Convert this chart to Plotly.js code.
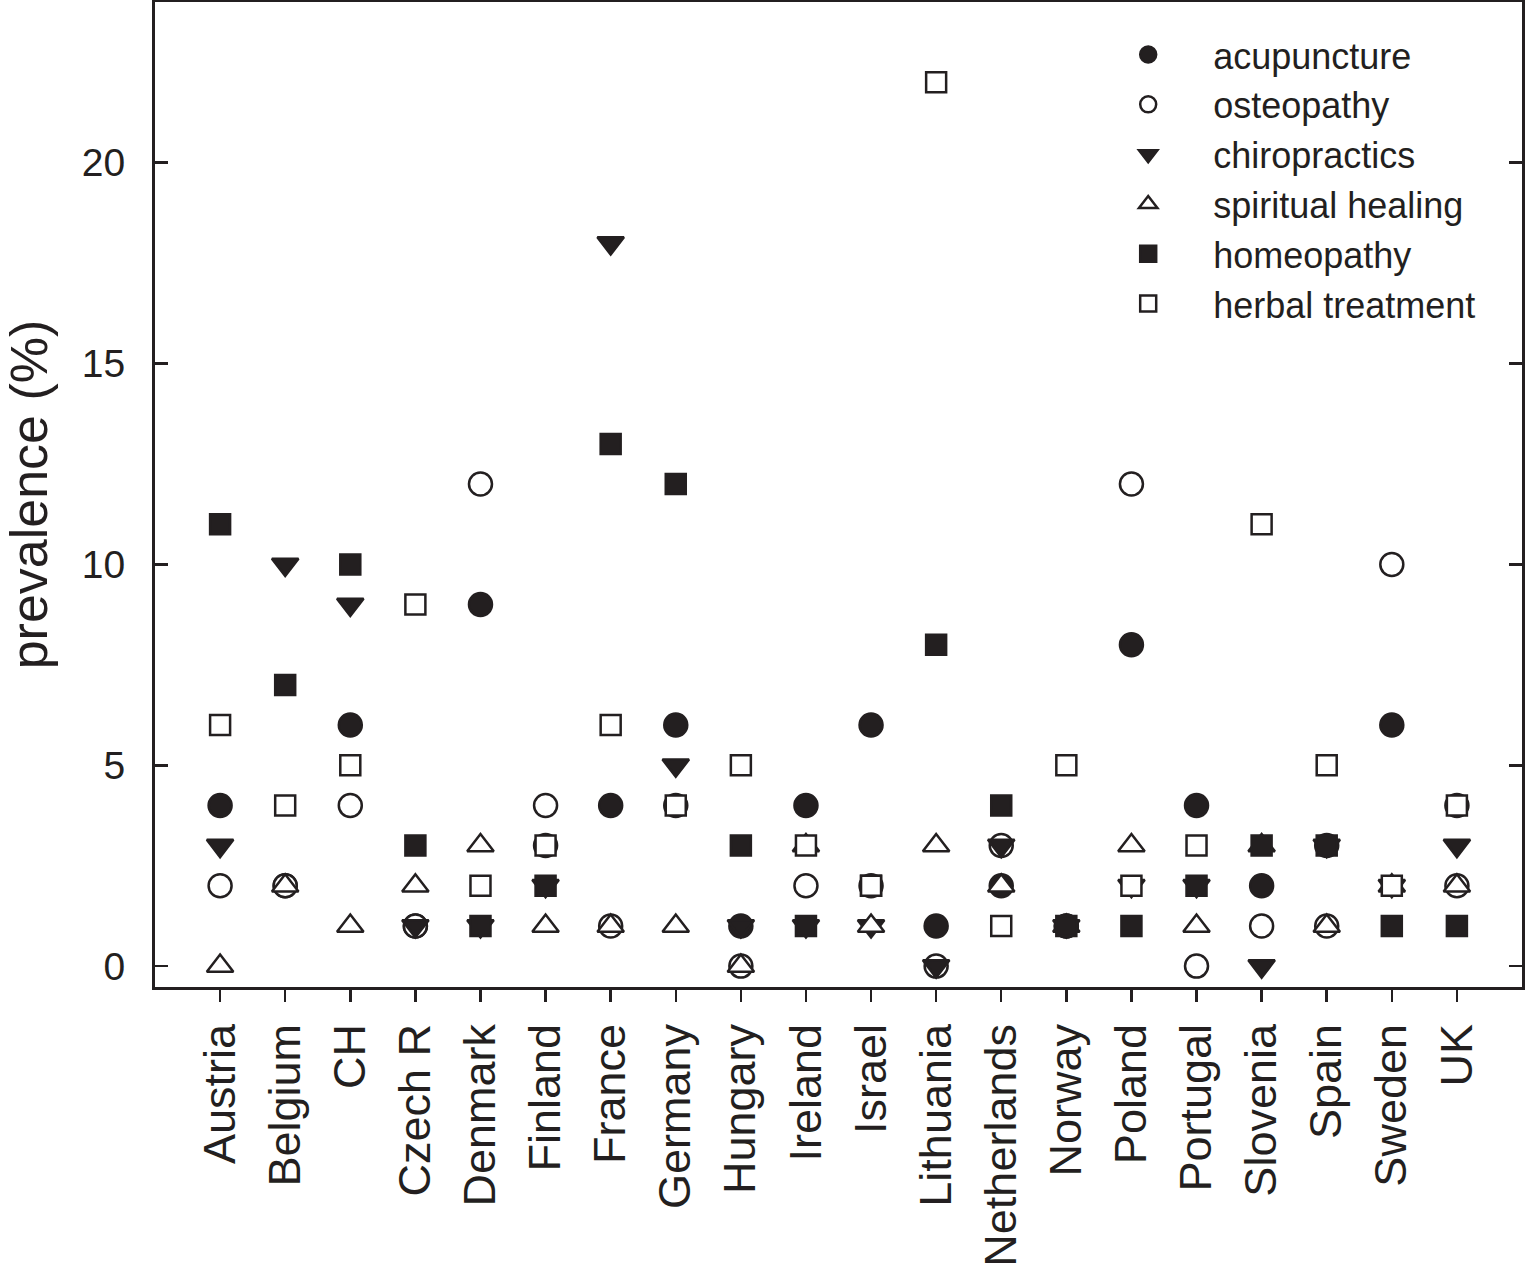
<!DOCTYPE html>
<html>
<head>
<meta charset="utf-8">
<script src="https://cdn.plot.ly/plotly-3.0.1.min.js"></script>
<style>html,body{margin:0;padding:0;background:#fff;} #chart{width:1525px;height:1275px;}</style>
</head>
<body>
<div id="chart"></div>
<script>
const countries = ["Austria","Belgium","CH","Czech R","Denmark","Finland","France","Germany","Hungary","Ireland","Israel","Lithuania","Netherlands","Norway","Poland","Portugal","Slovenia","Spain","Sweden","UK"];
const acupuncture   = [4, 2, 6, 1, 9, 3, 4, 6, 1, 4, 6, 1, 2, 1, 8, 4, 2, 3, 6, 4];
const osteopathy    = [2, 2, 4, 1, 12, 4, 1, 4, 0, 2, 2, 0, 3, 1, 12, 0, 1, 1, 10, 2];
const chiropractics = [3, 10, 9, 1, 1, 2, 18, 5, 1, 1, 1, 0, 3, 1, 2, 2, 0, 3, 2, 3];
const spiritualHealing = [0, 2, 1, 2, 3, 1, 1, 1, 0, 3, 1, 3, 2, 1, 3, 1, 3, 1, 2, 2];
const homeopathy    = [11, 7, 10, 3, 1, 2, 13, 12, 3, 1, 2, 8, 4, 1, 1, 2, 3, 3, 1, 1];
const herbalTreatment = [6, 4, 5, 9, 2, 3, 6, 4, 5, 3, 2, 22, 1, 5, 2, 3, 11, 5, 2, 4];
const yTicks = [0, 5, 10, 15, 20];

const ink = "#231f20";
const FONT = "Liberation Sans, Arial, Helvetica, sans-serif";

function series(name, y, symbol, filled, size) {
  return {
    type: "scatter", mode: "markers", name: name,
    x: countries, y: y,
    marker: {
      symbol: symbol, size: size,
      color: filled ? ink : "#ffffff",
      line: {color: ink, width: 2.5}
    },
    hoverinfo: "x+y+name"
  };
}

const data = [
  series("acupuncture", acupuncture, "circle", true, 23),
  series("osteopathy", osteopathy, "circle", false, 23),
  series("chiropractics", chiropractics, "triangle-down", true, 23),
  series("spiritual healing", spiritualHealing, "triangle-up", false, 23),
  series("homeopathy", homeopathy, "square", true, 20),
  series("herbal treatment", herbalTreatment, "square", false, 20)
];

const layout = {
  width: 1525, height: 1275,
  margin: {l: 155, r: 3, t: 2, b: 288},
  paper_bgcolor: "#ffffff", plot_bgcolor: "#ffffff",
  font: {family: FONT, color: ink, size: 38},
  showlegend: true,
  legend: {
    x: 0.679, y: 0.977, xanchor: "left", yanchor: "top",
    font: {family: FONT, size: 36, color: ink},
    itemwidth: 120, bgcolor: "rgba(0,0,0,0)", borderwidth: 0,
    tracegroupgap: 0
  },
  xaxis: {
    type: "category",
    range: [-1, 20],
    showgrid: false, zeroline: false,
    showline: true, linecolor: ink, linewidth: 3, mirror: true,
    ticks: "outside", ticklen: 12, tickwidth: 2.5, tickcolor: ink,
    tickangle: -90,
    tickfont: {family: FONT, size: 45, color: ink},
    ticklabelstandoff: 4
  },
  yaxis: {
    range: [-0.52, 24.0],
    tickvals: yTicks, ticktext: yTicks.map(String),
    showgrid: false, zeroline: false,
    showline: true, linecolor: ink, linewidth: 3, mirror: "ticks",
    ticks: "inside", ticklen: 13, tickwidth: 2.5, tickcolor: ink,
    tickfont: {family: FONT, size: 39, color: ink},
    ticklabelstandoff: 19,
    title: {text: "prevalence (%)", font: {family: FONT, size: 52, color: ink}, standoff: 18}
  }
};

Plotly.newPlot("chart", data, layout, {displayModeBar: false, staticPlot: true});
</script>
</body>
</html>
